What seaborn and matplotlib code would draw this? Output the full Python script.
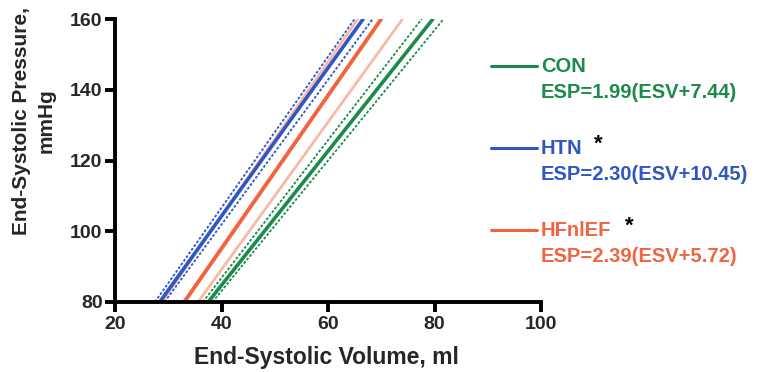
import matplotlib
matplotlib.use("Agg")
import matplotlib.pyplot as plt
import seaborn as sns
import pandas as pd
from matplotlib.lines import Line2D

sns.set_theme(style="white")
plt.rcParams['font.family'] = ['Liberation Sans', 'DejaVu Sans']
plt.rcParams['font.weight'] = 'bold'

# End-systolic pressure at the two ends of each line (mmHg)
esp_ends = [80, 160]
# End-systolic volume read at ESP = 80 and ESP = 160 (ml)
con_mean = [37.5, 79.7]
con_lo = [36.5, 77.6]
con_hi = [38.3, 81.7]
htn_mean = [28.4, 66.6]
htn_lo = [27.5, 65.0]
htn_hi = [29.3, 68.4]
hf_mean = [33.0, 70.0]
hf_lo = [28.8, 65.6]
hf_hi = [35.6, 74.0]

groups = ["CON", "HTN", "HFnlEF"]
equations = ["ESP=1.99(ESV+7.44)", "ESP=2.30(ESV+10.45)", "ESP=2.39(ESV+5.72)"]
xticks = [20, 40, 60, 80, 100]
yticks = [80, 100, 120, 140, 160]

GREEN = "#1b8a4c"
BLUE = "#2f56c2"
ORANGE = "#f26440"
LORANGE = "#f9b9a4"

fig = plt.figure(figsize=(7.79, 3.72), dpi=100)
ax = fig.add_axes([115/779, 1-302/372, 426/779, 283/372])

def draw(xs, color, lw, ls):
    df = pd.DataFrame({"ESV": xs, "ESP": esp_ends})
    sns.lineplot(data=df, x="ESV", y="ESP", color=color, lw=lw, ls=ls, ax=ax,
                 sort=False, estimator=None)

# CON
draw(con_lo, GREEN, 1.3, (0, (1.5, 1)))
draw(con_hi, GREEN, 1.3, (0, (1.5, 1)))
draw(con_mean, GREEN, 2.6, "-")
# HFnlEF
draw(hf_lo, LORANGE, 2.0, "-")
draw(hf_hi, LORANGE, 2.0, "-")
draw(hf_mean, ORANGE, 2.8, "-")
# HTN
draw(htn_lo, BLUE, 1.3, (0, (1.5, 1)))
draw(htn_hi, BLUE, 1.3, (0, (1.5, 1)))
draw(htn_mean, BLUE, 2.6, "-")

ax.set_xlim(20, 100)
ax.set_ylim(80, 160)
ax.set_xticks(xticks)
ax.set_yticks(yticks)
ax.set_xticklabels([str(t) for t in xticks], fontsize=14, fontweight='bold')
ax.set_yticklabels([str(t) for t in yticks], fontsize=14, fontweight='bold')
for s in ["top", "right"]:
    ax.spines[s].set_visible(False)
for s in ["left", "bottom"]:
    ax.spines[s].set_linewidth(2.8)
    ax.spines[s].set_color("black")
ax.tick_params(axis="both", direction="out", length=7, width=2.8, color="black",
               pad=2, bottom=True, left=True)
ax.tick_params(axis="x", pad=3)
ax.set_xlabel("End-Systolic Volume, ml", fontsize=16.5, fontweight='bold')
ax.xaxis.set_label_coords(0.497, -0.155)
ax.xaxis.label.set_va('top')
ax.set_ylabel("End-Systolic Pressure,\nmmHg", fontsize=15, fontweight='bold',
              linespacing=1.35)
ax.yaxis.set_label_coords(-0.19, 0.64)
ax.yaxis.label.set_va('center')
ax.grid(False)

# legend block
leg_colors = [GREEN, BLUE, ORANGE]
leg_y = [66, 148, 230]
for g, eq, c, y in zip(groups, equations, leg_colors, leg_y):
    fig.add_artist(Line2D([491/779, 537/779], [1-y/372, 1-y/372], color=c, lw=2.2))
    fig.text(541/779, 1-y/372, g, color=c, fontsize=14.5, fontweight='bold',
             va='center', ha='left')
    fig.text(541/779, 1-(y+27)/372, eq, color=c, fontsize=14.5, fontweight='bold',
             va='center', ha='left')
fig.text(594/779, 1-144/372, "*", color="black", fontsize=16, fontweight='bold',
         va='center', ha='left')
fig.text(625/779, 1-226/372, "*", color="black", fontsize=16, fontweight='bold',
         va='center', ha='left')

fig.savefig("out.png", dpi=100)
